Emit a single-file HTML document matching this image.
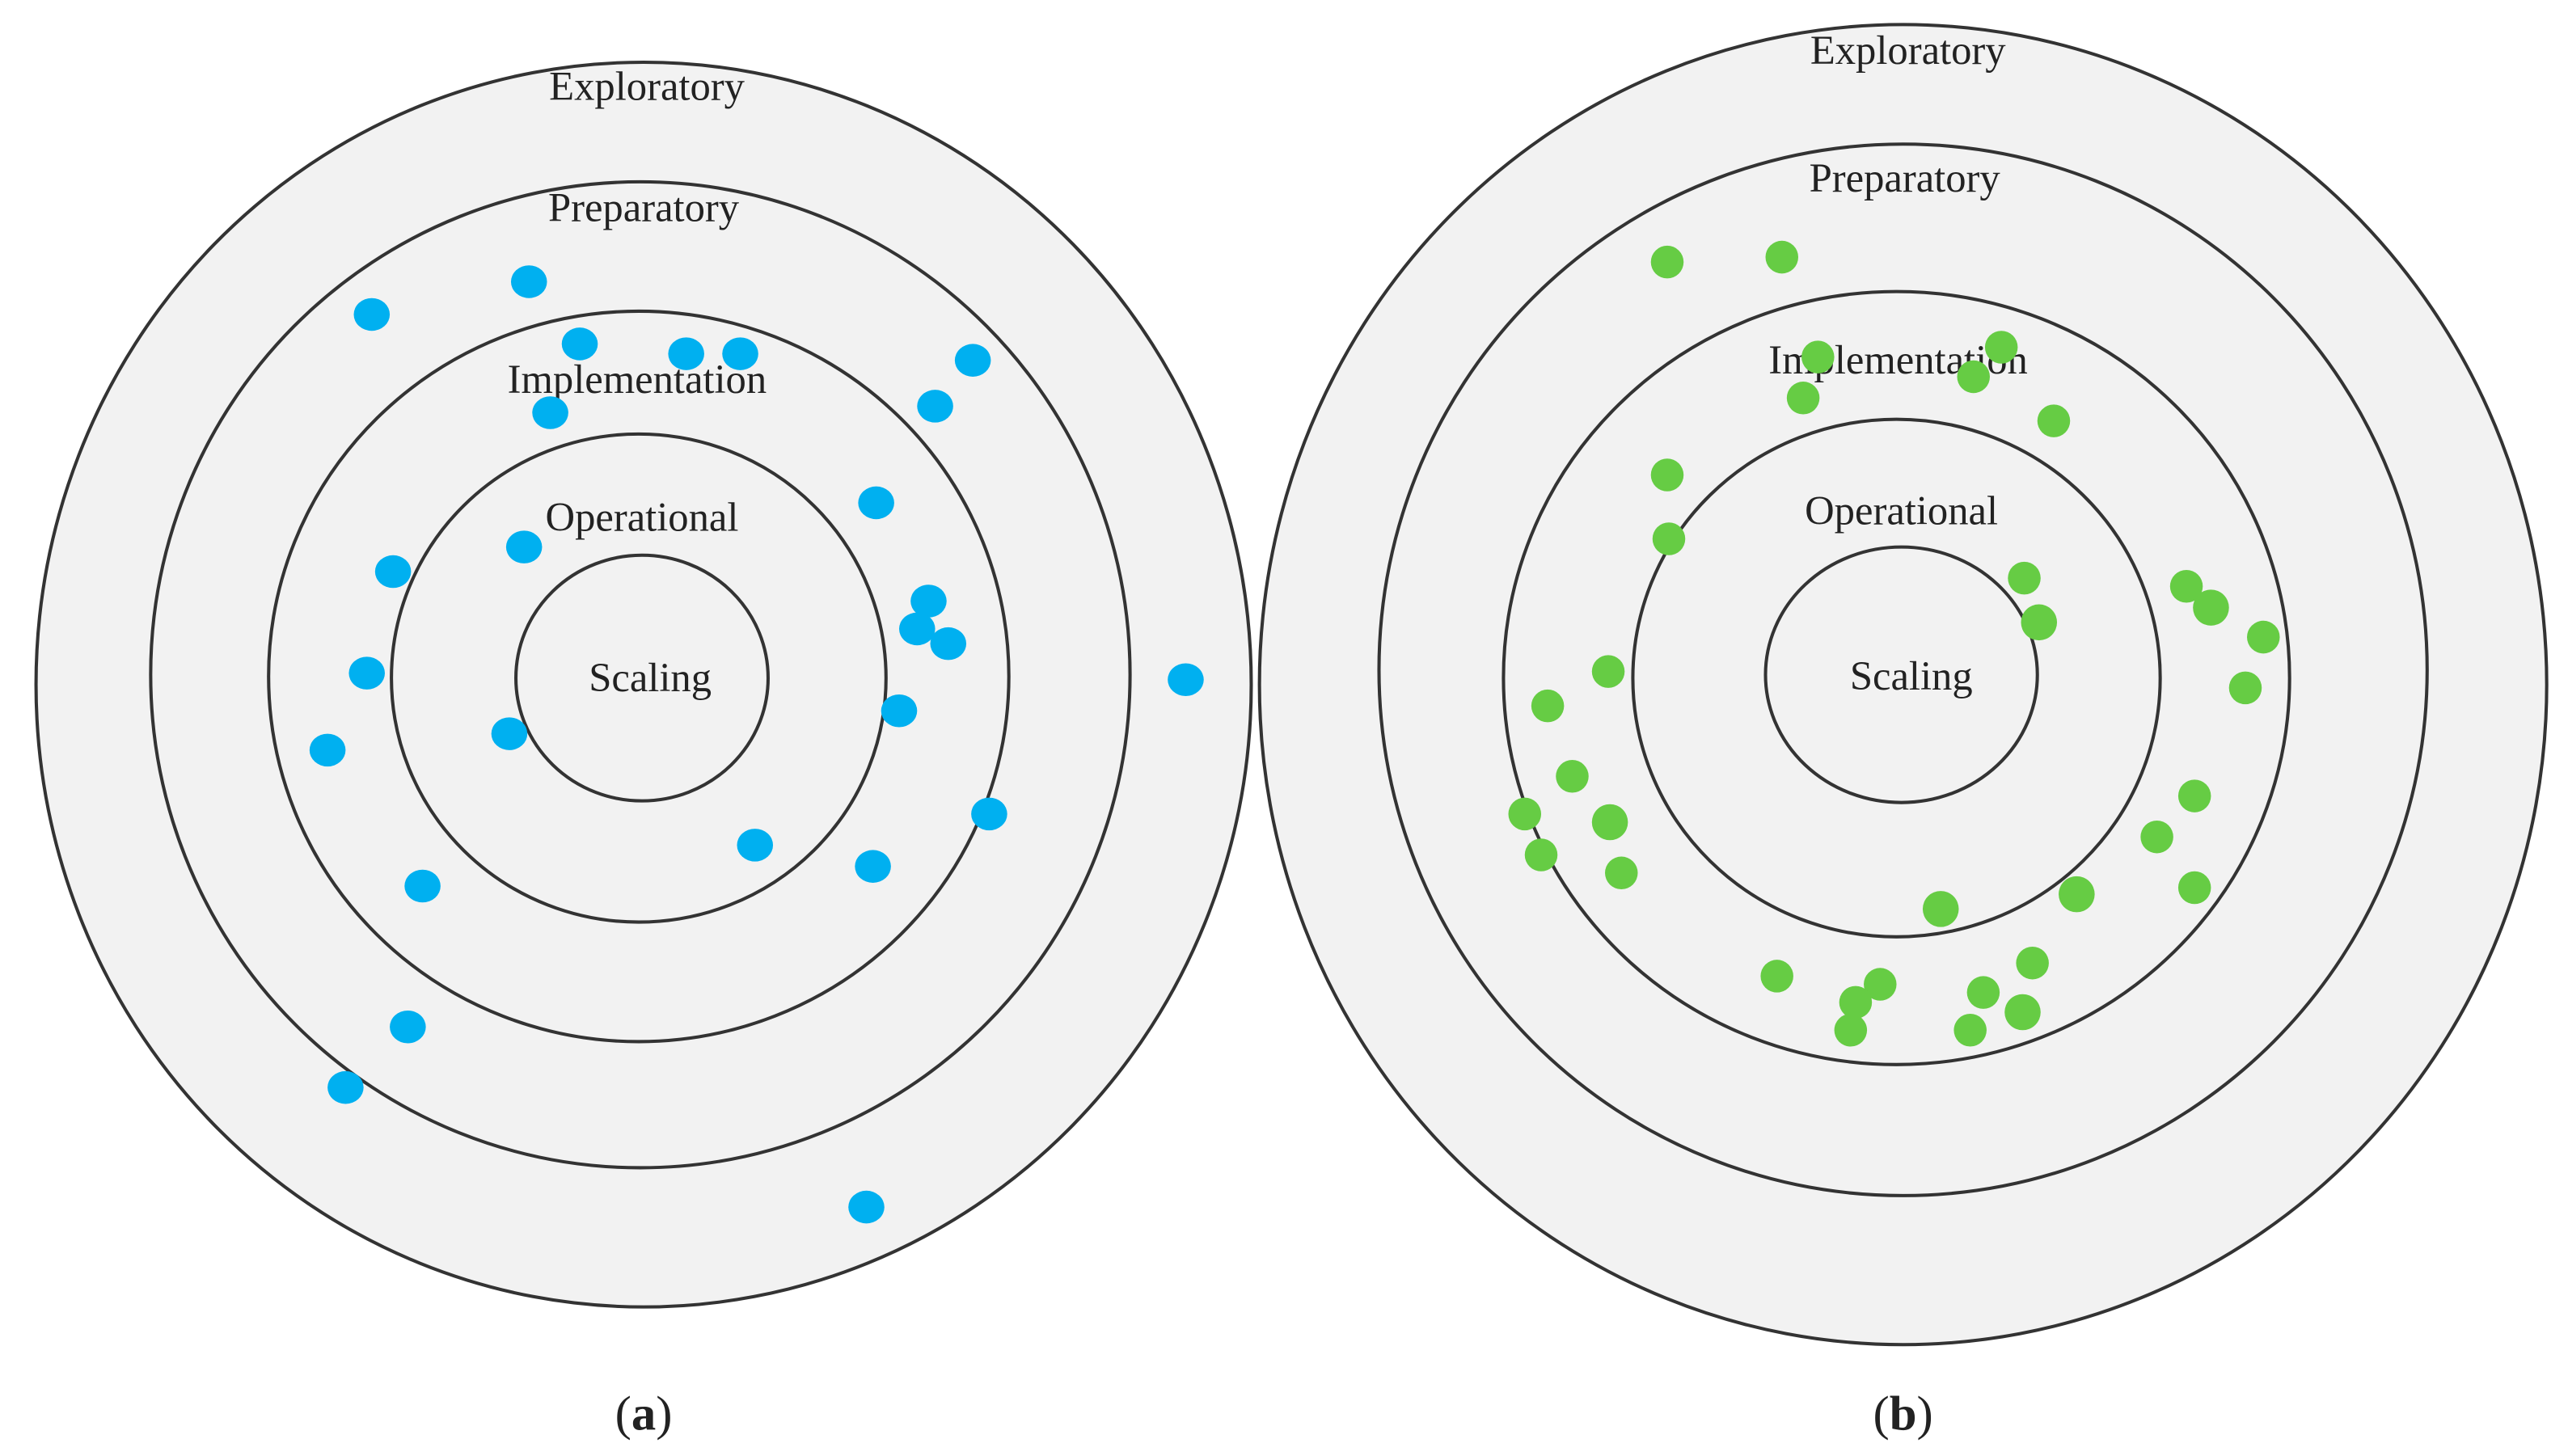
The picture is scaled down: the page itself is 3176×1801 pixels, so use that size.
<!DOCTYPE html>
<html><head><meta charset="utf-8"><style>
html,body{margin:0;padding:0;background:#fff;width:3176px;height:1801px;overflow:hidden}
svg{display:block}
text{font-family:"Liberation Serif",serif;fill:#222;text-anchor:middle}
</style></head><body>
<svg width="3176" height="1801" viewBox="0 0 1568 889" preserveAspectRatio="none">
<g fill="#f2f2f2" stroke="#333" stroke-width="2">
<ellipse cx="393" cy="418" rx="371" ry="380"/>
<ellipse cx="391" cy="412" rx="299" ry="301"/>
<ellipse cx="390" cy="413" rx="226" ry="223"/>
<ellipse cx="390" cy="414" rx="151" ry="149"/>
<ellipse cx="392" cy="414" rx="77" ry="75"/>
<ellipse cx="1162" cy="418" rx="393" ry="403"/>
<ellipse cx="1162" cy="409" rx="320" ry="321"/>
<ellipse cx="1158" cy="414" rx="240" ry="236"/>
<ellipse cx="1158" cy="414" rx="161" ry="158"/>
<ellipse cx="1161" cy="412" rx="83" ry="78"/>
</g>
<g font-size="25">
<text x="395" y="61">Exploratory</text>
<text x="393" y="135">Preparatory</text>
<text x="389" y="240">Implementation</text>
<text x="392" y="324">Operational</text>
<text x="397" y="422">Scaling</text>
<text x="1165" y="39">Exploratory</text>
<text x="1163" y="117">Preparatory</text>
<text x="1159" y="228">Implementation</text>
<text x="1161" y="320">Operational</text>
<text x="1167" y="421">Scaling</text>
</g>
<g fill="#00b0f0">
<ellipse cx="227" cy="192" rx="11" ry="10"/><ellipse cx="323" cy="172" rx="11" ry="10"/><ellipse cx="354" cy="210" rx="11" ry="10"/><ellipse cx="419" cy="216" rx="11" ry="10"/><ellipse cx="452" cy="216" rx="11" ry="10"/><ellipse cx="594" cy="220" rx="11" ry="10"/><ellipse cx="571" cy="248" rx="11" ry="10"/><ellipse cx="336" cy="252" rx="11" ry="10"/><ellipse cx="535" cy="307" rx="11" ry="10"/><ellipse cx="320" cy="334" rx="11" ry="10"/><ellipse cx="240" cy="349" rx="11" ry="10"/><ellipse cx="567" cy="367" rx="11" ry="10"/><ellipse cx="560" cy="384" rx="11" ry="10"/><ellipse cx="579" cy="393" rx="11" ry="10"/><ellipse cx="224" cy="411" rx="11" ry="10"/><ellipse cx="724" cy="415" rx="11" ry="10"/><ellipse cx="549" cy="434" rx="11" ry="10"/><ellipse cx="200" cy="458" rx="11" ry="10"/><ellipse cx="311" cy="448" rx="11" ry="10"/><ellipse cx="604" cy="497" rx="11" ry="10"/><ellipse cx="461" cy="516" rx="11" ry="10"/><ellipse cx="533" cy="529" rx="11" ry="10"/><ellipse cx="258" cy="541" rx="11" ry="10"/><ellipse cx="249" cy="627" rx="11" ry="10"/><ellipse cx="211" cy="664" rx="11" ry="10"/><ellipse cx="529" cy="737" rx="11" ry="10"/>
</g>
<g fill="#66cc44">
<circle cx="1018" cy="160" r="10"/><circle cx="1088" cy="157" r="10"/><circle cx="1110" cy="218" r="10"/><circle cx="1222" cy="212" r="10"/><circle cx="1205" cy="230" r="10"/><circle cx="1101" cy="243" r="10"/><circle cx="1254" cy="257" r="10"/><circle cx="1018" cy="290" r="10"/><circle cx="1019" cy="329" r="10"/><circle cx="1236" cy="353" r="10"/><circle cx="1245" cy="380" r="11"/><circle cx="1335" cy="358" r="10"/><circle cx="1350" cy="371" r="11"/><circle cx="1382" cy="389" r="10"/><circle cx="1371" cy="420" r="10"/><circle cx="982" cy="410" r="10"/><circle cx="945" cy="431" r="10"/><circle cx="960" cy="474" r="10"/><circle cx="931" cy="497" r="10"/><circle cx="983" cy="502" r="11"/><circle cx="941" cy="522" r="10"/><circle cx="990" cy="533" r="10"/><circle cx="1340" cy="486" r="10"/><circle cx="1317" cy="511" r="10"/><circle cx="1340" cy="542" r="10"/><circle cx="1268" cy="546" r="11"/><circle cx="1185" cy="555" r="11"/><circle cx="1241" cy="588" r="10"/><circle cx="1085" cy="596" r="10"/><circle cx="1148" cy="601" r="10"/><circle cx="1133" cy="612" r="10"/><circle cx="1211" cy="606" r="10"/><circle cx="1235" cy="618" r="11"/><circle cx="1130" cy="629" r="10"/><circle cx="1203" cy="629" r="10"/>
</g>
<text x="393" y="873" font-size="30">(<tspan font-weight="bold">a</tspan>)</text>
<text x="1162" y="873" font-size="30">(<tspan font-weight="bold">b</tspan>)</text>
</svg>
</body></html>
